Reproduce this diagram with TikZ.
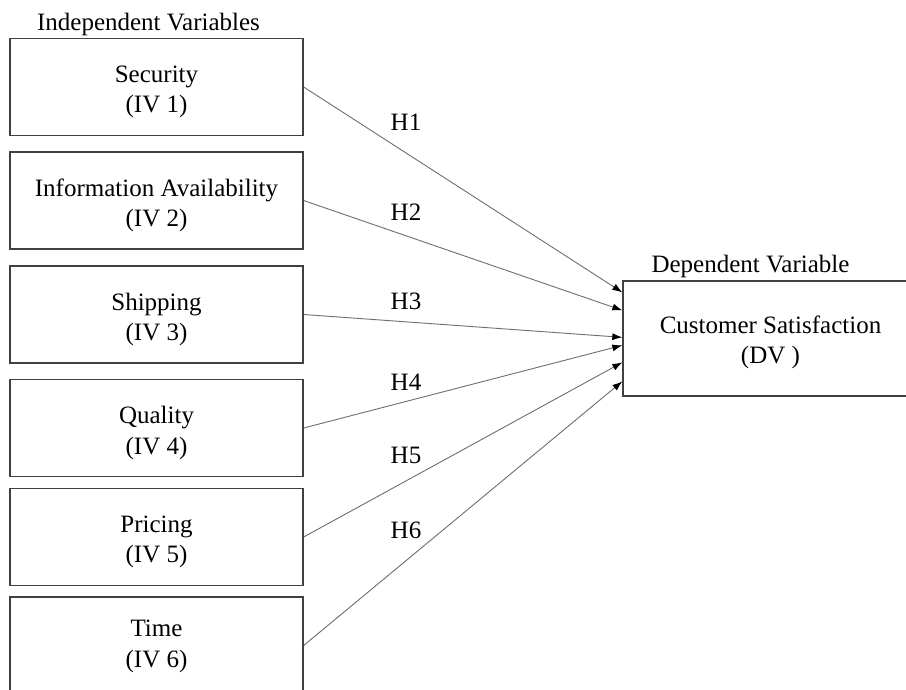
\documentclass[tikz,border=0pt]{standalone}
\usepackage{fontspec}
\setmainfont{Liberation Serif}
\usetikzlibrary{arrows.meta,calc}
\definecolor{boxline}{RGB}{64,64,64}
\definecolor{arrline}{RGB}{110,110,110}
\begin{document}
\begin{tikzpicture}[x=1pt,y=-1pt,
  txt/.style={font=\fontsize{25}{30.5}\selectfont, text=black},
  ivbox/.style={draw=boxline, line width=1.3pt, minimum width=293pt, minimum height=97pt, inner sep=0pt},
  dvbox/.style={draw=boxline, line width=1.3pt, minimum width=289pt, minimum height=115pt, inner sep=0pt},
  boxtext/.style={txt, align=center, inner sep=0pt},
  hyp/.style={draw=arrline, line width=0.9pt, -{Latex[length=10pt,width=7pt,fill=black,color=black]}},
  hlabel/.style={txt, inner sep=0pt}
]
\useasboundingbox (0,0) rectangle (906,689);
\fill[white] (0,0) rectangle (906,689);

\node[txt, anchor=base] (ivtitle) at (148.5,30) {Independent Variables};
\node[txt, anchor=base] (dvtitle) at (750.5,272) {Dependent Variable};

\node[ivbox] (b1) at (156.5,87) {};
\node[ivbox] (b2) at (156.5,200.5) {};
\node[ivbox] (b3) at (156.5,314.5) {};
\node[ivbox] (b4) at (156.5,428) {};
\node[ivbox] (b5) at (156.5,537) {};
\node[ivbox] (b6) at (156.5,645.5) {};

\node[boxtext] (b1t) at ($(b1.center)+(0,5)$) {Security\\(IV 1)};
\node[boxtext] (b2t) at ($(b2.center)+(0,5)$) {Information Availability\\(IV 2)};
\node[boxtext] (b3t) at ($(b3.center)+(0,5)$) {Shipping\\(IV 3)};
\node[boxtext] (b4t) at ($(b4.center)+(0,5)$) {Quality\\(IV 4)};
\node[boxtext] (b5t) at ($(b5.center)+(0,5)$) {Pricing\\(IV 5)};
\node[boxtext] (b6t) at ($(b6.center)+(0,1)$) {Time\\(IV 6)};

\node[dvbox] (dv) at (767.5,338.5) {};
\node[boxtext] (dvt) at ($(dv.center)+(3,4)$) {Customer Satisfaction\\(DV )};

\coordinate (t1) at ($(dv.north west)+(0,12)$);
\coordinate (t2) at ($(dv.north west)+(0,30)$);
\coordinate (t3) at ($(dv.north west)+(0,57)$);
\coordinate (t4) at ($(dv.north west)+(0,65)$);
\coordinate (t5) at ($(dv.north west)+(0,82)$);
\coordinate (t6) at ($(dv.north west)+(0,101)$);

\draw[hyp] (b1.east) -- (t1);
\draw[hyp] (b2.east) -- (t2);
\draw[hyp] (b3.east) -- (t3);
\draw[hyp] (b4.east) -- (t4);
\draw[hyp] (b5.east) -- (t5);
\draw[hyp] (b6.east) -- (t6);

\node[hlabel] (h1) at (406,122.5) {H1};
\node[hlabel] (h2) at (406,212) {H2};
\node[hlabel] (h3) at (406,301) {H3};
\node[hlabel] (h4) at (406,382) {H4};
\node[hlabel] (h5) at (406,455) {H5};
\node[hlabel] (h6) at (406,530) {H6};
\end{tikzpicture}
\end{document}
